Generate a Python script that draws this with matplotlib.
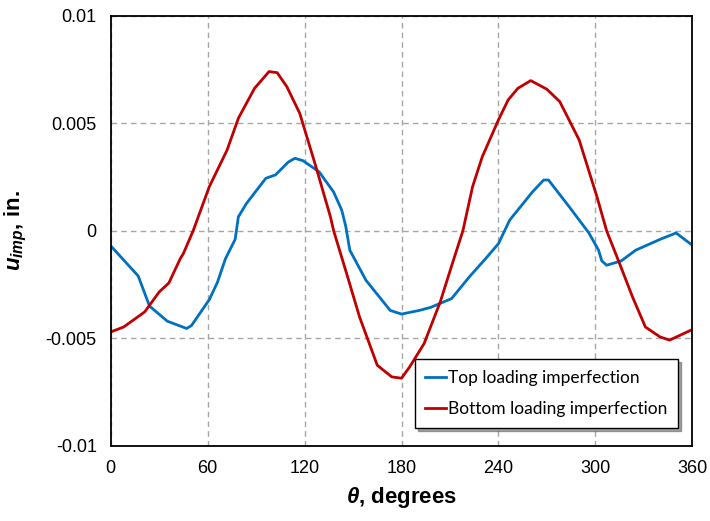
import matplotlib
matplotlib.use("Agg")
import matplotlib.pyplot as plt

plt.rcParams['font.family'] = ['Liberation Sans', 'DejaVu Sans']
plt.rcParams['mathtext.fontset'] = 'custom'
plt.rcParams['mathtext.it'] = 'Liberation Sans:italic:bold'
plt.rcParams['mathtext.rm'] = 'Liberation Sans:bold'
plt.rcParams['mathtext.bf'] = 'Liberation Sans:bold'

# top loading imperfection (blue)
top_deg = [0, 17, 24, 35, 47, 50, 61, 66, 71, 77, 79, 84, 96, 102, 110, 114, 119,
           129, 138, 143, 145.5, 148, 158, 173, 180, 191, 198, 211, 222, 232, 240,
           247, 261, 268, 271, 284, 296, 302, 304, 307, 316, 325, 340, 350, 360]
top_u = [-0.0007, -0.0021, -0.0035, -0.0042, -0.00454, -0.0044, -0.0032, -0.0024,
         -0.0013, -0.0004, 0.00065, 0.00127, 0.00244, 0.0026, 0.0032, 0.00337, 0.00326,
         0.00274, 0.0018, 0.00096, 0.0002, -0.0009, -0.0023, -0.0037, -0.00387, -0.0037,
         -0.00356, -0.00315, -0.00214, -0.0013, -0.0006, 0.0005, 0.0018, 0.00236, 0.00236,
         0.0011, -0.0001, -0.0009, -0.0014, -0.0016, -0.0014, -0.0009, -0.0004, -0.0001,
         -0.00067]

# bottom loading imperfection (red)
bot_deg = [0, 8, 21, 30, 36, 43, 45, 51, 61, 72, 79, 89, 98, 103, 109, 117, 127,
           136, 138, 146, 154, 165, 174, 180, 185, 194, 204, 212, 218, 224, 230, 240,
           246, 252, 260, 270, 278, 290, 301, 307, 315, 323, 331, 340, 346, 360]
bot_u = [-0.0047, -0.00447, -0.00377, -0.00284, -0.00242, -0.0013, -0.00105, 0.0,
         0.00205, 0.00375, 0.00523, 0.00662, 0.0074, 0.00735, 0.0067, 0.00546, 0.00298,
         0.00065, 0.0, -0.00198, -0.004, -0.00625, -0.00679, -0.00685, -0.00633,
         -0.00524, -0.0033, -0.0014, 0.0, 0.00205, 0.00344, 0.00515, 0.00608, 0.00662,
         0.00698, 0.00658, 0.006, 0.00422, 0.00158, 0.0, -0.00152, -0.00307, -0.00447,
         -0.00493, -0.00508, -0.00459]

x_ticks = [0, 60, 120, 180, 240, 300, 360]
y_ticks = [-0.01, -0.005, 0, 0.005, 0.01]
y_labels = ['-0.01', '-0.005', '0', '0.005', '0.01']

fig = plt.figure(figsize=(7.1, 5.21), dpi=100)
ax = fig.add_axes([0.156, 0.144, 0.819, 0.826])

ax.plot(top_deg, top_u, color='#0070C0', lw=2, label='Top loading imperfection')
ax.plot(bot_deg, bot_u, color='#C00000', lw=2, label='Bottom loading imperfection')

ax.set_xlim(0, 360)
ax.set_ylim(-0.01, 0.01)
ax.set_xticks(x_ticks)
ax.set_yticks(y_ticks)
ax.set_yticklabels(y_labels)
ax.tick_params(length=0, labelsize=13, pad=10)
ax.grid(True, color='#A6A6A6', ls=(0, (4, 3)), lw=1)
for s in ax.spines.values():
    s.set_linewidth(1.3)

ax.set_xlabel(r'$\theta$, degrees', fontsize=16, fontweight='bold', labelpad=6)
ax.set_ylabel(r'$u_{imp}$, in.', fontsize=16, fontweight='bold', labelpad=12)

leg = ax.legend(loc='lower right', bbox_to_anchor=(0.99, 0.022), fancybox=False,
                shadow=True, framealpha=1, edgecolor='black', handlelength=1.2,
                handletextpad=0.1, labelspacing=0.9, borderpad=0.6,
                prop={'family': 'Lato', 'size': 12.5})
leg.get_frame().set_linewidth(1)

fig.savefig('out.png', dpi=100)
